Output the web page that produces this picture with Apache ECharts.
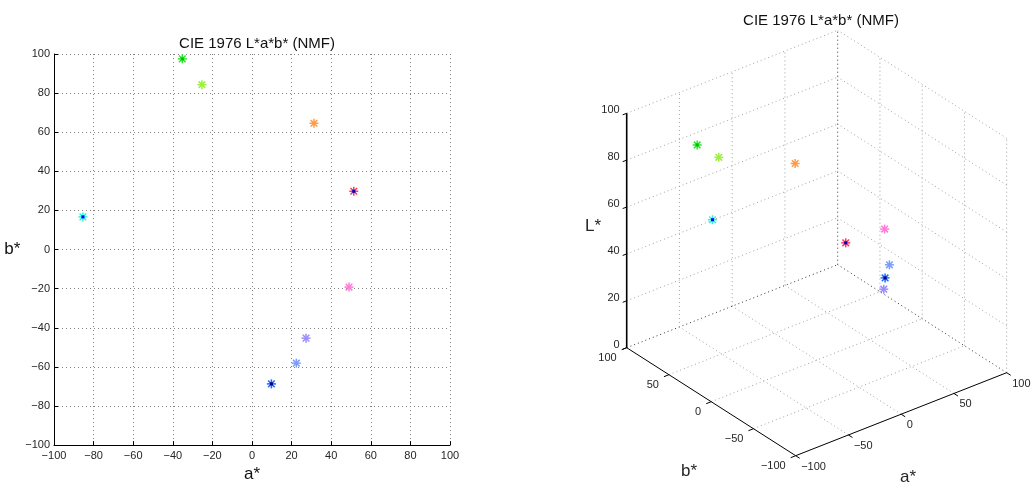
<!DOCTYPE html>
<html>
<head>
<meta charset="utf-8">
<script src="https://cdn.jsdelivr.net/npm/echarts@6/dist/echarts.min.js"></script>
<style>
  html, body { margin: 0; padding: 0; background: #fff; }
  #main { width: 1036px; height: 488px; }
</style>
</head>
<body>
<div id="main"></div>
<script>
// CIE L*a*b* values of the samples
const aStar = [-85.4, -35.2, -25.3, 31.3, 51.4, 49.0, 27.3, 22.4, 9.8];
const bStar = [16.7, 97.5, 84.3, 64.6, 29.8, -19.2, -45.3, -58.1, -68.7];
const lStar = [71.2, 75.6, 71.6, 63.5, 34.1, 51.7, 35.9, 50.1, 49.2];
const markColors = ['#2ef2e0', '#2ee62e', '#99f23a', '#ff9a45', '#ff3a5c', '#ff7ad8', '#9a8cff', '#7a9cff', '#1a6cff'];
const dotColors = ['#0000ff', '#00c000', null, null, '#0000c0', null, null, null, '#000090'];

const ticksAB = [-100, -50, 0, 50, 100];
const ticksL = [0, 20, 40, 60, 80, 100];

const FONT = 'Liberation Sans, Arial, Helvetica, sans-serif';
const TXT = '#262626';

var chartDom = document.getElementById('main');
var myChart = echarts.init(chartDom);
var option;

function minus(v) {
  return String(v).replace('-', '\u2212');
}

// asterisk marker, like matlab's '*'
function star(p, i) {
  const r = 4.5, d = 3.3;
  const st = { stroke: markColors[i], lineWidth: 1.5 };
  const kids = [
    { type: 'line', shape: { x1: p[0] - r, y1: p[1], x2: p[0] + r, y2: p[1] }, style: st },
    { type: 'line', shape: { x1: p[0], y1: p[1] - r, x2: p[0], y2: p[1] + r }, style: st },
    { type: 'line', shape: { x1: p[0] - d, y1: p[1] - d, x2: p[0] + d, y2: p[1] + d }, style: st },
    { type: 'line', shape: { x1: p[0] - d, y1: p[1] + d, x2: p[0] + d, y2: p[1] - d }, style: st }
  ];
  if (dotColors[i]) {
    kids.push({ type: 'rect', shape: { x: p[0] - 1.5, y: p[1] - 1.5, width: 3, height: 3 }, style: { fill: dotColors[i] } });
  }
  return { type: 'group', children: kids };
}

// 3d view (az -37.5, el 30 style), screen position of a data point
const P0 = [795.7, 455.7];
const EA = [1.055, -0.415];
const EB = [-0.845, -0.54];
const EL = -2.344;
function proj(a, b, L) {
  return [
    P0[0] + (a + 100) * EA[0] + (b + 100) * EB[0],
    P0[1] + (a + 100) * EA[1] + (b + 100) * EB[1] + L * EL
  ];
}

const graphics = [];
function seg(p, q, color, dash, w) {
  graphics.push({
    type: 'line',
    shape: { x1: p[0], y1: p[1], x2: q[0], y2: q[1] },
    style: { stroke: color, lineWidth: w || 1, lineDash: dash || null },
    silent: true
  });
}
function label(text, x, y, align, size) {
  graphics.push({
    type: 'text',
    x: x, y: y,
    style: { text: text, fill: TXT, font: (size || 11) + 'px ' + FONT, textAlign: align, textVerticalAlign: 'middle' },
    silent: true
  });
}

const GRID = '#a0a0a0', EDGE = '#303030', DOT = [1, 3];
// floor grid
ticksAB.slice(1, -1).forEach(function (a) { seg(proj(a, -100, 0), proj(a, 100, 0), GRID, DOT); });
ticksAB.slice(1, -1).forEach(function (b) { seg(proj(-100, b, 0), proj(100, b, 0), GRID, DOT); });
seg(proj(100, -100, 0), proj(100, 100, 0), EDGE, DOT);
seg(proj(-100, 100, 0), proj(100, 100, 0), EDGE, DOT);
// back wall b = 100
ticksAB.slice(1, -1).forEach(function (a) { seg(proj(a, 100, 0), proj(a, 100, 100), GRID, DOT); });
ticksL.slice(1).forEach(function (L) { seg(proj(-100, 100, L), proj(100, 100, L), GRID, DOT); });
// back wall a = 100
ticksAB.slice(0, -1).forEach(function (b) { seg(proj(100, b, 0), proj(100, b, 100), GRID, DOT); });
ticksL.slice(1).forEach(function (L) { seg(proj(100, -100, L), proj(100, 100, L), GRID, DOT); });
seg(proj(100, 100, 0), proj(100, 100, 100), EDGE, DOT);

// solid axes
seg(proj(-100, 100, 0), proj(-100, 100, 100), '#000', null, 1.6);
seg(proj(-100, 100, 0), proj(-100, -100, 0), '#000');
seg(proj(-100, -100, 0), proj(100, -100, 0), '#000');

ticksL.forEach(function (L) {
  const p = proj(-100, 100, L);
  seg(p, [p[0] - 4, p[1] + 1.5], '#000');
  label(String(L), p[0] - 7, p[1] - 3, 'right');
});
ticksAB.forEach(function (b) {
  const p = proj(-100, b, 0);
  seg(p, [p[0] - 5, p[1] + 2], '#000');
  label(minus(b), p[0] - 10, p[1] + 10.6, 'right');
});
ticksAB.forEach(function (a) {
  const p = proj(a, -100, 0);
  seg(p, [p[0] + 4, p[1] + 2.6], '#000');
  label(minus(a), p[0] + 5.5, p[1] + 10.8, 'left');
});
label('L*', 593, 226, 'center', 17);
label('b*', 689, 471, 'center', 17);
label('a*', 908, 477, 'center', 17);

option = {
  animation: false,
  title: [
    { text: 'CIE 1976 L*a*b* (NMF)', left: 252, top: 31, textAlign: 'center',
      textStyle: { fontFamily: FONT, fontSize: 15, fontWeight: 'normal', color: '#111' } },
    { text: 'CIE 1976 L*a*b* (NMF)', left: 816, top: 8, textAlign: 'center',
      textStyle: { fontFamily: FONT, fontSize: 15, fontWeight: 'normal', color: '#111' } }
  ],
  grid: { left: 54, top: 54, width: 396, height: 396 },
  xAxis: {
    type: 'value', min: -100, max: 100, interval: 20,
    name: 'a*', nameLocation: 'middle', nameGap: 17,
    nameTextStyle: { fontFamily: FONT, fontSize: 17, color: '#111' },
    axisLine: { onZero: false, lineStyle: { color: '#000' } },
    axisTick: { inside: true, length: 4, lineStyle: { color: '#000' } },
    axisLabel: { fontFamily: FONT, fontSize: 11, color: TXT, margin: 5, formatter: minus },
    splitLine: { lineStyle: { color: '#808080', type: DOT } }
  },
  yAxis: {
    type: 'value', min: -100, max: 100, interval: 20,
    name: 'b*', nameLocation: 'middle', nameGap: 29, nameRotate: 0,
    nameTextStyle: { fontFamily: FONT, fontSize: 17, color: '#111' },
    axisLine: { onZero: false, lineStyle: { color: '#000' } },
    axisTick: { inside: true, length: 4, lineStyle: { color: '#000' } },
    axisLabel: { fontFamily: FONT, fontSize: 11, color: TXT, margin: 4, formatter: minus },
    splitLine: { lineStyle: { color: '#808080', type: DOT } }
  },
  graphic: { elements: graphics },
  series: [
    {
      type: 'custom',
      coordinateSystem: 'cartesian2d',
      data: aStar.map(function (a, i) { return [a, bStar[i], i]; }),
      renderItem: function (params, api) {
        return star(api.coord([api.value(0), api.value(1)]), api.value(2));
      }
    },
    {
      type: 'custom',
      coordinateSystem: 'none',
      z: 10,
      data: aStar.map(function (a, i) { return [a, bStar[i], lStar[i], i]; }),
      renderItem: function (params, api) {
        return star(proj(api.value(0), api.value(1), api.value(2)), api.value(3));
      }
    }
  ]
};

option && myChart.setOption(option);
</script>
</body>
</html>
